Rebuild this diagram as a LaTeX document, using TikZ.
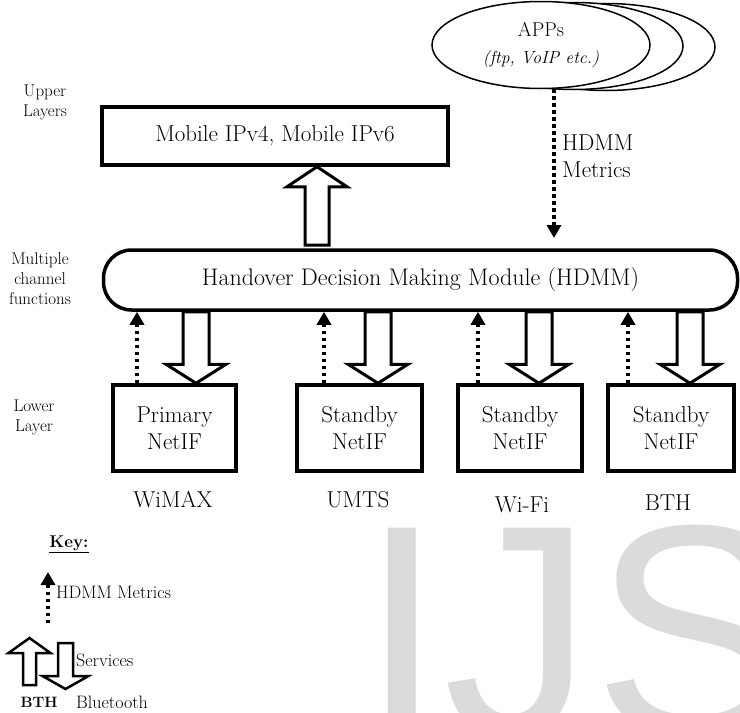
\documentclass[tikz,border=0pt]{standalone}
\usepackage{fontspec}
\newfontfamily\wmfont{Liberation Sans}
\usetikzlibrary{arrows.meta,shapes.geometric,calc,backgrounds}
\newcommand\mainfs{\fontsize{23}{27}\selectfont}
\newcommand\bigfs{\fontsize{24}{28}\selectfont}
\newcommand\appfs{\fontsize{17.5}{27}\selectfont}
\newcommand\apptitle{\fontsize{20}{27}\selectfont}
\newcommand\smallfs{\fontsize{17}{20}\selectfont}
\newcommand\keyfs{\fontsize{18}{20}\selectfont}
% hollow block arrows: #1 base, #2 tip, #3 shaft half width, #4 head half width, #5 head length
\newcommand\hdown[5]{\draw[hollow] let \p1=(#1), \p2=(#2) in
  (\x2-#3,\y1) -- (\x2-#3,\y2+#5) -- (\x2-#4,\y2+#5) -- (\x2,\y2) --
  (\x2+#4,\y2+#5) -- (\x2+#3,\y2+#5) -- (\x2+#3,\y1) -- cycle;}
\newcommand\hup[5]{\draw[hollow] let \p1=(#1), \p2=(#2) in
  (\x2-#3,\y1) -- (\x2-#3,\y2-#5) -- (\x2-#4,\y2-#5) -- (\x2,\y2) --
  (\x2+#4,\y2-#5) -- (\x2+#3,\y2-#5) -- (\x2+#3,\y1) -- cycle;}
\begin{document}
\begin{tikzpicture}[x=1pt,y=-1pt,
  box/.style={draw,line width=3.5pt,fill=white,inner sep=0pt,align=center,font=\mainfs},
  app/.style={draw,ellipse,line width=1.5pt,fill=white,minimum width=218pt,minimum height=87pt,inner sep=0pt,align=center,font=\appfs},
  lbl/.style={inner sep=0pt,font=\mainfs},
  side/.style={inner sep=0pt,align=center,font=\smallfs},
  keytxt/.style={inner sep=0pt,font=\keyfs},
  hollow/.style={draw,fill=white,line width=3pt,line join=miter},
  metric/.style={line width=3.5pt,dash pattern=on 3.5pt off 3.5pt,-{Triangle[width=14pt,length=13pt]}},
  wm/.style={inner sep=0pt,font=\wmfont\fontsize{300}{300}\selectfont,text=black!14}]
\useasboundingbox (0,0) rectangle (740,713);
\clip (0,0) rectangle (740,713);

% APPs ellipses
\node[app] (e3) at (606,47) {};
\node[app] (e2) at (574,46) {};
\node[app] (e1) at (541,45) {{\apptitle APPs}\\\textit{(ftp, VoIP etc.)}};

% main blocks
\node[box,minimum width=346pt,minimum height=58pt] (mip) at (275,136) {Mobile IPv4, Mobile IPv6};
\node[box,rounded corners=28pt,minimum width=634pt,minimum height=60pt,font=\bigfs] (hdmm) at (420.5,280)
  {Handover Decision Making Module (HDMM)};

\node[box,minimum width=123pt,minimum height=86pt] (b1) at (174.5,428) {Primary\\NetIF};
\node[box,minimum width=125pt,minimum height=86pt] (b2) at (359.5,428) {Standby\\NetIF};
\node[box,minimum width=124pt,minimum height=86pt] (b3) at (520,428) {Standby\\NetIF};
\node[box,minimum width=126pt,minimum height=86pt] (b4) at (671,428) {Standby\\NetIF};

% technology labels
\node[lbl,anchor=base] (t1) at (173,507) {WiMAX};
\node[lbl,anchor=base] (t2) at (358,507) {UMTS};
\node[lbl,anchor=base] (t3) at (522,512) {Wi-Fi};
\node[lbl,anchor=base] (t4) at (668,510) {BTH};

% side labels
\node[side] (s1) at (45,102) {Upper\\Layers};
\node[side] (s2) at (40,279) {Multiple\\channel\\functions};
\node[side] (s3) at (34,417) {Lower\\Layer};

% metrics label near APPs
\node[lbl,anchor=west,align=left] (hm) at (562,156) {HDMM\\Metrics};

% key
\node[keytxt,font=\fontsize{17}{20}\selectfont\bfseries] (key) at (69,544) {\underline{Key:}};
\node[keytxt,anchor=west] (khm) at (56,592) {HDMM Metrics};
\node[keytxt,anchor=west] (ksv) at (76,660) {Services};
\node[keytxt,font=\fontsize{15}{18}\selectfont\bfseries] (kbth) at (39,702) {BTH};
\node[keytxt,anchor=west] (kbt) at (76,702) {Bluetooth};

% helper coordinates
\coordinate (m0) at (554,0);
\coordinate (m1) at (137,0);
\coordinate (m2) at (324,0);
\coordinate (m3) at (478,0);
\coordinate (m4) at (628,0);
\coordinate (a0) at (317,0);
\coordinate (a1) at (196,0);
\coordinate (a2) at (378,0);
\coordinate (a3) at (539,0);
\coordinate (a4) at (690,0);
\coordinate (m0end) at (554,238);
\coordinate (a0base) at (317,245);
\coordinate (kd1) at (48,623);
\coordinate (kd2) at (48,572);
\coordinate (ku1) at (29.5,685);
\coordinate (ku2) at (29.5,638);
\coordinate (kv1) at (65.5,643);
\coordinate (kv2) at (65.5,689);

% dotted metric arrows
\draw[metric] (e1.south -| m0) -- (m0end);
\draw[metric] (b1.north -| m1) -- (hdmm.south -| m1);
\draw[metric] (b2.north -| m2) -- (hdmm.south -| m2);
\draw[metric] (b3.north -| m3) -- (hdmm.south -| m3);
\draw[metric] (b4.north -| m4) -- (hdmm.south -| m4);
\draw[metric] (kd1) -- (kd2);

\begin{scope}[on background layer]
  \node[wm,anchor=base west] (wmark) at (360,734) {IJS};
  \hup{a0base}{mip.south -| a0}{12pt}{30pt}{20pt}
  \hdown{hdmm.south -| a1}{b1.north -| a1}{13pt}{30pt}{19pt}
  \hdown{hdmm.south -| a2}{b2.north -| a2}{13pt}{30pt}{19pt}
  \hdown{hdmm.south -| a3}{b3.north -| a3}{13pt}{30pt}{19pt}
  \hdown{hdmm.south -| a4}{b4.north -| a4}{13pt}{30pt}{19pt}
  \begin{scope}[hollow/.append style={line width=2.5pt}]
    \hup{ku1}{ku2}{6.5pt}{21pt}{15pt}
    \hdown{kv1}{kv2}{7.5pt}{23pt}{13pt}
  \end{scope}
\end{scope}
\end{tikzpicture}
\end{document}
